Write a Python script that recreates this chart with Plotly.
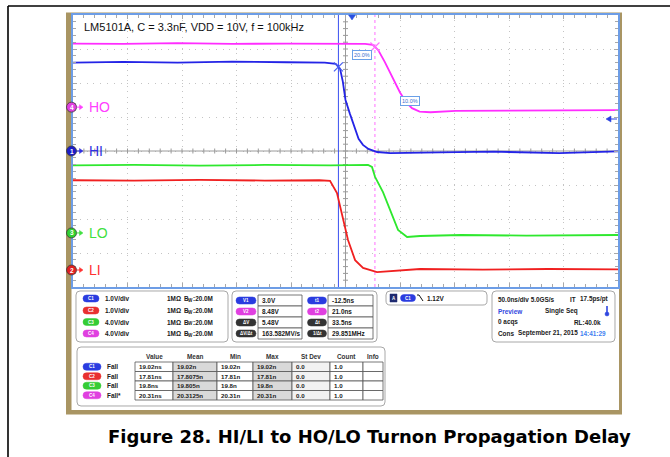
import plotly.graph_objects as go
import numpy as np

W, H = 670, 457

# ---------------- data ----------------
# time in ns (50 ns/div), amplitude in screen divisions
t_ho = [-256, -210, -160, -110, -60, -10, 12, 19, 24, 30, 37, 44, 50, 55, 62, 72, 95, 140, 190, 244]
v_ho = [3.16, 3.15, 3.17, 3.15, 3.16, 3.15, 3.15, 3.12, 2.97, 2.62, 2.15, 1.72, 1.42, 1.26, 1.16, 1.14, 1.18, 1.19, 1.18, 1.20]

t_hi = [-256, -210, -160, -110, -60, -25, -15, -11, -8.5, -6, -2, 1, 3, 6, 10, 15, 23, 35, 80, 130, 190, 244]
v_hi = [2.60, 2.62, 2.60, 2.63, 2.61, 2.60, 2.56, 2.42, 2.05, 1.50, 1.10, 0.80, 0.60, 0.36, 0.18, 0.06, -0.03, -0.06, -0.04, -0.02, -0.06, -0.01]

t_lo = [-256, -200, -140, -80, -20, 14.7, 18.3, 21.1, 28.4, 34.9, 42.2, 50.5, 62.4, 100, 160, 244]
v_lo = [-0.42, -0.41, -0.43, -0.41, -0.42, -0.41, -0.47, -0.76, -1.21, -1.74, -2.32, -2.53, -2.50, -2.47, -2.49, -2.47]

t_li = [-256, -200, -140, -80, -30, -20.2, -13.8, -8.3, -3.7, 2.8, 10.1, 22.9, 39.4, 62.4, 120, 180, 244]
v_li = [-0.86, -0.87, -0.85, -0.87, -0.86, -0.88, -1.24, -2.03, -2.62, -3.21, -3.44, -3.56, -3.53, -3.47, -3.49, -3.47, -3.48]

trace_names = ["HO", "HI", "LO", "LI"]
trace_colors = ["#ff2cff", "#2424e6", "#2ee82e", "#f02020"]
label_colors = ["#ff40ff", "#3030e0", "#40e040", "#ff3030"]
gnd_levels = [1.29, 0.0, -2.41, -3.5]
gnd_numbers = ["4", "1", "3", "2"]
gnd_fill = ["#e040e0", "#1c1cc8", "#30d030", "#e02020"]

cursor_t = [-12.5, 21.0]
x_range = [-256, 244]
y_range = [-4, 4]

title_text = "LM5101A, C = 3.3nF, VDD = 10V, f = 100kHz"
caption = "Figure 28. HI/LI to HO/LO Turnon Propagation Delay"

ch_badges = ["C1", "C2", "C3", "C4"]
ch_badge_colors = ["#2a3ce0", "#e83030", "#35cc35", "#e040e0"]
ch_scales = ["1.0V/div", "1.0V/div", "4.0V/div", "4.0V/div"]
ch_term = ["1MΩ", "B", "W", ":20.0M"]

cur_labels_a = ["V1", "V2", "ΔV", "ΔV/Δt"]
cur_values_a = ["3.0V", "8.48V", "5.48V", "163.582MV/s"]
cur_labels_b = ["t1", "t2", "Δt", "1/Δt"]
cur_values_b = ["-12.5ns", "21.0ns", "33.5ns", "29.851MHz"]
cur_badge_colors = ["#2a3ce0", "#e040e0", "#333333", "#333333"]

meas_header = ["Value", "Mean", "Min", "Max", "St Dev", "Count", "Info"]
meas_names = ["Fall", "Fall", "Fall", "Fall*"]
meas_values = [
    ["19.02ns", "19.02n", "19.02n", "19.02n", "0.0", "1.0", ""],
    ["17.81ns", "17.8075n", "17.81n", "17.81n", "0.0", "1.0", ""],
    ["19.8ns", "19.805n", "19.8n", "19.8n", "0.0", "1.0", ""],
    ["20.31ns", "20.3125n", "20.31n", "20.31n", "0.0", "1.0", ""],
]

# ---------------- layout geometry (pixels) ----------------
PL, PR, PT, PB = 73, 618, 15, 287
FS = 6.4  # panel text size


def PX(x):
    return x / W


def PY(y):
    return 1 - y / H


def rrect_path(x0, y0, x1, y1, r):
    pts = [
        ("M", [(x0 + r, y0)]), ("L", [(x1 - r, y0)]), ("Q", [(x1, y0), (x1, y0 + r)]),
        ("L", [(x1, y1 - r)]), ("Q", [(x1, y1), (x1 - r, y1)]), ("L", [(x0 + r, y1)]),
        ("Q", [(x0, y1), (x0, y1 - r)]), ("L", [(x0, y0 + r)]), ("Q", [(x0, y0), (x0 + r, y0)]),
    ]
    s = ""
    for cmd, ps in pts:
        s += cmd + " " + " ".join(f"{PX(a):.5f},{PY(b):.5f}" for a, b in ps) + " "
    return s + "Z"


shapes = []
annots = []


def rr(x0, y0, x1, y1, r, fill, line="#a8a8a8", lw=1, layer="above"):
    shapes.append(dict(type="path", xref="paper", yref="paper", path=rrect_path(x0, y0, x1, y1, r),
                       fillcolor=fill, line=dict(color=line, width=lw), layer=layer))


def rect(x0, y0, x1, y1, fill, line=None, lw=0, layer="above"):
    shapes.append(dict(type="rect", xref="paper", yref="paper", x0=PX(x0), x1=PX(x1),
                       y0=PY(y1), y1=PY(y0), fillcolor=fill,
                       line=dict(color=line or fill, width=lw), layer=layer))


def pline(x0, y0, x1, y1, color, width=1, layer="above"):
    shapes.append(dict(type="line", xref="paper", yref="paper", x0=PX(x0), x1=PX(x1), y0=PY(y0), y1=PY(y1),
                       line=dict(color=color, width=width), layer=layer))


def txt(x, y, s, size=FS, color="#202020", anchor="left", bold=True, family="Liberation Sans"):
    if not s:
        return
    if bold:
        s = "<b>" + s + "</b>"
    annots.append(dict(x=PX(x), y=PY(y), xref="paper", yref="paper", text=s, showarrow=False,
                       xanchor=anchor, yanchor="middle", font=dict(size=size, color=color, family=family)))


def badge(cx, cy, w, h, color, label, size=4.5):
    rr(cx - w / 2, cy - h / 2, cx + w / 2, cy + h / 2, h / 2, color, line=color, lw=0.5)
    txt(cx, cy, label, size=size, color="white", anchor="center")


# outer document frame
pline(8, 6, W, 6, "black", 1.6, layer="below")
pline(8, 6, 8, H, "black", 1.6, layer="below")
# scope frame
rect(66, 12.5, 622, 414.5, "#a99563", layer="below")
rect(71.5, 14, 619, 410, "#ffffff", layer="below")

# ---------------- figure ----------------
fig = go.Figure()

tn = [t_ho, t_hi, t_lo, t_li]
vn = [v_ho, v_hi, v_lo, v_li]
for name, t, v, c in zip(trace_names, tn, vn, trace_colors):
    fig.add_trace(go.Scatter(x=t, y=v, mode="lines", name=name, line=dict(color=c, width=1.8),
                             hoverinfo="skip", showlegend=False))

# cursor marks on traces
x_hi = float(np.interp(cursor_t[0], t_hi, v_hi))
x_ho = float(np.interp(cursor_t[1], t_ho, v_ho))
fig.add_trace(go.Scatter(x=[cursor_t[0]], y=[x_hi], mode="markers", showlegend=False, hoverinfo="skip",
                         marker=dict(symbol="x-thin", size=9, line=dict(color="#4a60f0", width=1.2))))
fig.add_trace(go.Scatter(x=[cursor_t[1]], y=[x_ho], mode="markers", showlegend=False, hoverinfo="skip",
                         marker=dict(symbol="x-thin", size=9, line=dict(color="#ff70ff", width=1.2))))

xpp = (x_range[1] - x_range[0]) / (PR - PL)  # ns per pixel
ypp = (y_range[1] - y_range[0]) / (PB - PT)  # div per pixel


def ypix(v):
    return PT + (y_range[1] - v) / ypp


# ground markers at left edge
for name, g, num, fc, c in zip(trace_names, gnd_levels, gnd_numbers, gnd_fill, label_colors):
    gy = ypix(g)
    shapes.append(dict(type="circle", xref="paper", yref="paper", x0=PX(66.5), x1=PX(76.5),
                       y0=PY(gy + 5), y1=PY(gy - 5), fillcolor=fc,
                       line=dict(color="#3a3a3a", width=0.8), layer="above"))
    txt(71.5, gy, num, size=6.5, color="white", anchor="center")
    pline(76.5, gy, 80, gy, c, 1)
    shapes.append(dict(type="path", xref="paper", yref="paper",
                       path=f"M {PX(79.5)},{PY(gy - 2.5)} L {PX(83)},{PY(gy)} L {PX(79.5)},{PY(gy + 2.5)} Z",
                       fillcolor=c, line=dict(color=c, width=0.5), layer="above"))
    txt(87, gy, name, size=14, color=c, bold=False)

# crosshair at screen centre
xc = (x_range[0] + x_range[1]) / 2
shapes.append(dict(type="line", xref="x", yref="y", x0=xc, x1=xc, y0=y_range[0], y1=y_range[1],
                   line=dict(color="#9a9a9a", width=1), layer="between"))
shapes.append(dict(type="line", xref="x", yref="y", x0=x_range[0], x1=x_range[1], y0=0, y1=0,
                   line=dict(color="#9a9a9a", width=1), layer="between"))
for k in range(1, 40):
    yv = y_range[0] + 0.2 * k
    shapes.append(dict(type="line", xref="x", yref="y", x0=xc - 2.5 * xpp, x1=xc + 2.5 * xpp, y0=yv, y1=yv,
                       line=dict(color="#9a9a9a", width=1), layer="between"))
for k in range(1, 50):
    xv = x_range[0] + 10 * k
    shapes.append(dict(type="line", xref="x", yref="y", x0=xv, x1=xv, y0=-2.5 * ypp, y1=2.5 * ypp,
                       line=dict(color="#9a9a9a", width=1), layer="between"))

# cursors
shapes.append(dict(type="line", xref="x", yref="y", x0=cursor_t[0], x1=cursor_t[0], y0=y_range[0], y1=y_range[1],
                   line=dict(color="#3a50f0", width=1), layer="between"))
shapes.append(dict(type="line", xref="x", yref="y", x0=cursor_t[1], x1=cursor_t[1], y0=y_range[0], y1=y_range[1],
                   line=dict(color="#ff70ff", width=1, dash="dot"), layer="between"))

# measurement level tags
annots.append(dict(x=cursor_t[1] - 3 * xpp, y=x_ho - 0.08, xref="x", yref="y", text="20.0%", showarrow=False,
                   xanchor="right", yanchor="top", font=dict(size=5.5, color="#3b6fd0", family="Liberation Sans"),
                   bgcolor="white", bordercolor="#6aa0e8", borderwidth=1, borderpad=1))
annots.append(dict(x=(400 - 352) * xpp, y=(151 - 101.5) * ypp, xref="x", yref="y", text="10.0%", showarrow=False,
                   xanchor="left", yanchor="middle", font=dict(size=5.5, color="#3b6fd0", family="Liberation Sans"),
                   bgcolor="white", bordercolor="#6aa0e8", borderwidth=1, borderpad=1))

# trigger markers
shapes.append(dict(type="path", xref="paper", yref="paper",
                   path=f"M {PX(348.5)},{PY(15)} L {PX(355.5)},{PY(15)} L {PX(352)},{PY(20)} Z",
                   fillcolor="#2a50e0", line=dict(color="#2a50e0", width=0.5), layer="above"))
shapes.append(dict(type="path", xref="paper", yref="paper",
                   path=f"M {PX(606)},{PY(119)} L {PX(611)},{PY(116)} L {PX(611)},{PY(122)} Z",
                   fillcolor="#2a40e0", line=dict(color="#2a40e0", width=0.5), layer="above"))
pline(610, 119, 617, 119, "#2a40e0", 1)

# title inside graticule
txt(82, 27, title_text, size=11, color="#111111", bold=False)

# ---------------- lower info panels ----------------
# channel panel
rr(76, 291, 228, 342, 4, "#ffffff")
rows_a = [298.5, 310.5, 322, 333.5]
for i in range(4):
    cy = rows_a[i]
    badge(91, cy, 16, 7, ch_badge_colors[i], ch_badges[i])
    txt(103, cy, ch_scales[i])
    txt(165, cy, ch_term[0])
    txt(182, cy, ch_term[1])
    txt(186.3, cy + 1.8, ch_term[2], size=4.6)
    txt(190.5, cy, ch_term[3])

# cursor panel
rr(232, 291, 377, 342, 4, "#ffffff")
bands = [(295, 306), (306, 317), (317, 328), (328, 339)]
for i, (y0, y1) in enumerate(bands):
    cy = (y0 + y1) / 2
    badge(246, cy, 20, 7, cur_badge_colors[i], cur_labels_a[i])
    rect(258, y0, 302, y1, "#ffffff", line="#555555", lw=0.8)
    txt(260, cy, cur_values_a[i])
    badge(317, cy, 19, 7, cur_badge_colors[i], cur_labels_b[i])
    rect(328, y0, 373, y1, "#ffffff", line="#555555", lw=0.8)
    txt(330, cy, cur_values_b[i])

# trigger panel
rr(386, 291, 487, 305, 4, "#ffffff")
rect(390, 294, 397, 302, "#1f2a70", line="#1f2a70", lw=0.5)
txt(393.5, 298, "A", size=4.5, color="white", anchor="center")
badge(408, 298, 15, 7, "#2a3ce0", "C1")
pline(417, 295, 419, 295, "#111111", 1)
pline(419, 295, 423, 301, "#111111", 1)
txt(425, 298, "1.12V")

# acquisition panel
rr(492, 291, 615, 342, 4, "#ffffff")
txt(496, 299, "50.0ns/div 5.0GS/s")
txt(568, 299, "IT")
txt(578, 299, "17.5ps/pt")
txt(496, 311, "Preview", color="#2f46e0")
txt(543, 311, "Single Seq")
pline(607, 306, 607, 313, "#2f46e0", 1.6)
shapes.append(dict(type="circle", xref="paper", yref="paper", x0=PX(605), x1=PX(609),
                   y0=PY(316), y1=PY(312), fillcolor="#2f46e0", line=dict(color="#2f46e0", width=0.5),
                   layer="above"))
txt(496, 322, "0 acqs")
txt(572, 322, "RL:40.0k")
txt(496, 333, "Cons")
txt(516, 333, "September 21, 2015")
txt(578, 333, "14:41:29", color="#3f7ff0")

# measurement table
rr(77, 347, 385, 406, 4, "#ffffff")
col_edges = [135, 173, 217, 253, 292, 330, 363, 383]
row_edges = [362, 371.5, 381, 390.5, 400]
col_fill = ["#ffffff", "#d9d9d9", "#ffffff", "#d9d9d9", "#f2f2f2", "#ffffff", "#ffffff"]
for j, hname in enumerate(meas_header):
    cx = (col_edges[j] + col_edges[j + 1]) / 2
    txt(cx, 356, hname, color="#333333", anchor="center")
for i in range(4):
    y0, y1 = row_edges[i], row_edges[i + 1]
    cy = (y0 + y1) / 2
    badge(92, cy, 18, 7, ch_badge_colors[i], ch_badges[i])
    txt(105, cy, meas_names[i])
    for j in range(7):
        rect(col_edges[j], y0, col_edges[j + 1], y1, col_fill[j], line="#555555", lw=0.8)
        txt(col_edges[j] + 2, cy, meas_values[i][j], size=6.2)

# caption
txt(369.5, 436, caption, size=18, color="#000000", anchor="center", family="DejaVu Sans")

tickc = "#a8a8a8"
fig.update_layout(
    width=W, height=H, margin=dict(l=0, r=0, t=0, b=0),
    paper_bgcolor="white", plot_bgcolor="white",
    shapes=shapes, annotations=annots, showlegend=False,
    xaxis=dict(domain=[PX(PL), PX(PR)], range=x_range, tick0=-6, dtick=50, showticklabels=False,
               showgrid=True, gridcolor="#c4c4c4", griddash="1px,4.45px", gridwidth=1, zeroline=False,
               showline=True, linecolor="#6d9de6", linewidth=2, mirror="ticks",
               ticks="inside", ticklen=4, tickcolor=tickc,
               minor=dict(dtick=10, tick0=-6, ticklen=3, tickcolor=tickc, ticks="inside", showgrid=False),
               fixedrange=True),
    yaxis=dict(domain=[PY(PB), PY(PT)], range=y_range, dtick=1, showticklabels=False,
               showgrid=True, gridcolor="#c4c4c4", griddash="1px,5.8px", gridwidth=1, zeroline=False,
               showline=True, linecolor="#6d9de6", linewidth=2, mirror="ticks",
               ticks="inside", ticklen=4, tickcolor=tickc,
               minor=dict(dtick=0.2, ticklen=3, tickcolor=tickc, ticks="inside", showgrid=False),
               fixedrange=True),
)

fig.write_html("out.html", config={"displayModeBar": False},
               post_script="document.body.style.margin='0';")
